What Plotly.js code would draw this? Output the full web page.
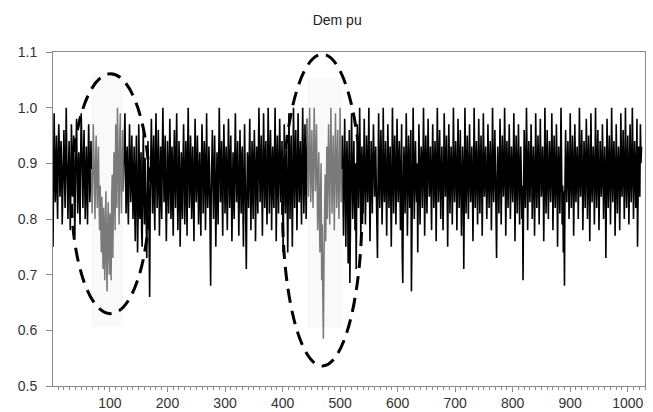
<!DOCTYPE html>
<html>
<head>
<meta charset="utf-8">
<script src="https://cdn.plot.ly/plotly-3.0.1.min.js"></script>
<style>html,body{margin:0;padding:0;background:#fff;}#chart{width:653px;height:412px;}</style>
</head>
<body>
<div id="chart"></div>
<script>
// Dem pu series, one value per sample (sample index starts at 1)
const demPu = [
0.75,0.92,0.99,0.90,0.83,0.88,0.95,0.86,0.80,0.91,0.97,0.93,0.84,0.87,0.94,0.89,0.79,0.85,0.92,0.96,
0.88,0.82,0.90,1.00,0.91,0.85,0.80,0.89,0.94,0.87,0.78,0.86,0.97,0.92,0.84,0.90,0.95,0.83,0.77,0.88,
0.93,0.98,0.87,0.81,0.89,0.92,0.84,0.79,0.90,0.99,0.94,0.86,0.82,0.91,0.96,0.88,0.80,0.87,0.93,0.85,
0.79,0.90,0.97,0.91,0.83,0.86,0.94,0.89,0.81,0.88,0.97,0.92,0.84,0.80,0.90,0.95,0.87,0.82,0.89,0.93,
0.83,0.78,0.86,0.80,0.74,0.84,0.79,0.71,0.82,0.76,0.69,0.80,0.85,0.72,0.67,0.78,0.83,0.74,0.70,0.81,
0.76,0.69,0.84,0.88,0.73,0.80,0.92,0.86,0.78,0.97,0.89,0.82,1.00,0.93,0.84,0.79,0.95,0.99,0.87,0.81,
0.90,0.96,0.85,0.88,0.94,0.99,0.86,0.81,0.90,0.93,0.84,0.79,0.89,0.97,0.91,0.83,0.87,0.95,0.88,0.80,
0.86,0.93,0.82,0.76,0.89,0.95,0.84,0.74,0.81,0.97,0.90,0.80,0.86,0.92,0.78,0.75,0.88,0.96,0.85,0.79,
0.91,0.87,0.80,0.73,0.86,0.94,0.89,0.79,0.66,0.84,0.92,0.98,0.88,0.81,0.90,0.95,0.83,0.78,0.91,0.99,
0.90,0.82,0.87,0.96,0.89,0.77,0.84,0.93,0.86,0.80,0.92,1.00,0.91,0.83,0.88,0.95,0.84,0.76,0.85,0.94,
0.89,0.81,0.86,0.98,0.92,0.80,0.85,0.93,0.83,0.77,0.90,0.96,0.88,0.82,0.91,0.99,0.87,0.78,0.84,0.94,
0.88,0.75,0.83,0.92,0.86,0.80,0.90,0.97,0.89,0.79,0.85,0.94,0.87,0.77,0.91,1.00,0.90,0.82,0.86,0.95,
0.91,0.80,0.85,0.93,0.84,0.76,0.88,0.98,0.90,0.83,0.87,0.95,0.89,0.79,0.86,0.92,0.83,0.77,0.89,0.97,
0.91,0.81,0.87,0.94,0.90,0.78,0.85,0.99,0.88,0.82,0.86,0.93,0.89,0.79,0.68,0.84,0.91,0.96,0.87,0.80,
0.88,0.95,0.86,0.75,0.83,0.92,0.87,0.79,0.90,1.00,0.92,0.83,0.88,0.94,0.85,0.77,0.89,0.97,0.90,0.81,
0.87,0.93,0.84,0.78,0.89,0.98,0.90,0.82,0.88,0.95,0.86,0.76,0.85,0.92,0.84,0.80,0.91,0.99,0.89,0.83,
0.88,0.94,0.85,0.77,0.86,0.96,0.89,0.81,0.90,0.93,0.83,0.75,0.87,0.97,0.88,0.79,0.71,0.84,0.92,0.89,
0.82,0.90,0.98,0.88,0.78,0.87,0.94,0.85,0.80,0.91,0.96,0.89,0.76,0.86,0.93,0.88,0.81,0.92,1.00,0.90,
0.83,0.89,0.95,0.86,0.77,0.88,0.99,0.91,0.82,0.90,0.94,0.85,0.79,0.89,1.00,0.92,0.81,0.87,0.96,0.90,
0.78,0.88,0.93,0.85,0.82,0.91,1.00,0.90,0.76,0.87,0.95,0.89,0.81,0.88,0.98,0.91,0.83,0.86,0.94,0.87,
0.74,0.86,0.97,0.90,0.81,0.88,0.93,0.84,0.74,0.85,0.99,0.91,0.80,0.89,0.95,0.85,0.75,0.87,1.00,0.92,
0.82,0.90,0.96,0.88,0.78,0.87,0.99,0.91,0.83,0.88,0.94,0.85,0.79,0.90,1.00,0.92,0.81,0.87,0.97,0.89,
0.80,0.88,0.98,0.91,0.84,0.90,1.00,0.92,0.83,0.89,0.96,0.87,0.82,0.91,1.00,0.93,0.85,0.90,0.97,0.88,
0.78,0.86,0.92,0.80,0.74,0.85,0.90,0.69,0.79,0.66,0.585,0.72,0.84,0.88,0.76,0.86,0.93,0.80,0.89,0.97,
0.88,0.79,0.90,1.00,0.91,0.81,0.87,0.95,0.86,0.78,0.90,0.99,0.89,0.82,0.91,0.96,0.85,0.80,0.88,1.00,
0.90,0.83,0.89,0.95,0.86,0.77,0.88,0.98,0.90,0.75,0.87,0.94,0.86,0.72,0.88,0.96,0.685,0.85,0.91,0.99,
0.89,0.80,0.87,0.94,0.85,0.78,0.90,0.71,0.86,0.97,0.90,0.82,0.88,1.00,0.91,0.77,0.85,0.93,0.87,0.81,
0.89,0.98,0.88,0.79,0.86,0.95,0.90,0.83,0.89,1.00,0.87,0.76,0.85,0.94,0.88,0.81,0.90,0.97,0.91,0.84,
0.88,0.93,0.85,0.78,0.73,0.87,0.99,0.90,0.82,0.89,0.96,0.88,0.79,0.86,1.00,0.89,0.83,0.88,0.94,0.86,
0.77,0.87,0.97,0.90,0.82,0.89,0.93,0.85,0.75,0.86,1.00,0.91,0.81,0.90,0.95,0.88,0.79,0.87,0.98,0.90,
0.83,0.89,0.94,0.86,0.78,0.88,0.97,0.74,0.685,0.86,0.93,0.89,0.81,0.88,0.99,0.90,0.77,0.86,0.95,0.89,
0.82,0.90,0.96,0.67,0.84,0.91,1.00,0.90,0.80,0.87,0.94,0.88,0.83,0.90,0.74,0.86,0.97,0.89,0.79,0.88,
0.93,0.90,0.82,0.89,1.00,0.91,0.77,0.86,0.95,0.88,0.81,0.89,0.98,0.90,0.84,0.87,0.93,0.86,0.78,0.89,
0.97,0.90,0.82,0.87,0.94,0.89,0.76,0.88,1.00,0.91,0.83,0.87,0.96,0.89,0.80,0.88,0.93,0.86,0.78,0.87,
0.99,0.91,0.84,0.88,0.95,0.87,0.75,0.86,0.97,0.90,0.81,0.88,0.93,0.89,0.79,0.87,1.00,0.90,0.83,0.88,
0.94,0.89,0.78,0.87,0.98,0.90,0.82,0.88,0.96,0.87,0.77,0.86,0.93,0.88,0.71,0.85,1.00,0.90,0.81,0.88,
0.95,0.89,0.80,0.87,0.97,0.90,0.83,0.88,0.93,0.86,0.76,0.87,1.00,0.91,0.82,0.88,0.94,0.89,0.79,0.87,
0.98,0.90,0.81,0.88,0.95,0.89,0.77,0.86,0.99,0.91,0.84,0.88,0.93,0.87,0.80,0.86,0.97,0.90,0.82,0.88,
0.94,0.89,0.78,0.87,1.00,0.90,0.83,0.88,0.96,0.89,0.80,0.73,0.87,0.93,0.89,0.81,0.88,0.98,0.90,0.79,
0.87,0.95,0.89,0.84,0.88,1.00,0.91,0.77,0.86,0.94,0.88,0.82,0.89,0.97,0.90,0.80,0.87,0.93,0.89,0.83,
0.88,0.99,0.90,0.76,0.86,0.95,0.89,0.81,0.88,0.97,0.90,0.79,0.87,0.93,0.88,0.80,0.86,0.69,0.85,0.96,
0.90,0.82,0.88,1.00,0.91,0.78,0.86,0.94,0.89,0.83,0.88,0.97,0.90,0.80,0.87,0.93,0.88,0.77,0.86,0.99,
0.90,0.82,0.87,0.95,0.89,0.79,0.88,0.98,0.90,0.84,0.87,0.93,0.89,0.76,0.86,1.00,0.91,0.81,0.88,0.96,
0.89,0.80,0.87,0.94,0.90,0.83,0.88,0.99,0.91,0.78,0.86,0.95,0.89,0.82,0.87,0.97,0.90,0.75,0.86,0.93,
0.89,0.81,0.88,1.00,0.90,0.79,0.86,0.74,0.85,0.68,0.87,0.96,0.90,0.83,0.88,0.94,0.89,0.80,0.87,0.99,
0.90,0.82,0.88,0.95,0.89,0.77,0.86,0.97,0.90,0.83,0.88,0.93,0.89,0.80,0.87,1.00,0.91,0.84,0.88,0.96,
0.89,0.78,0.86,0.94,0.90,0.82,0.88,0.98,0.91,0.80,0.87,0.95,0.89,0.76,0.86,0.99,0.90,0.83,0.88,0.93,
0.89,0.79,0.87,1.00,0.90,0.82,0.88,0.96,0.89,0.78,0.86,0.94,0.90,0.84,0.88,0.97,0.89,0.80,0.87,0.93,
0.88,0.73,0.86,0.98,0.90,0.82,0.88,0.95,0.89,0.79,0.87,1.00,0.91,0.83,0.88,0.94,0.89,0.77,0.86,0.97,
0.89,0.81,0.88,0.93,0.90,0.78,0.86,0.99,0.91,0.84,0.88,0.96,0.89,0.80,0.87,1.00,0.90,0.82,0.88,0.95,
0.89,0.79,0.87,0.97,0.90,0.83,0.88,1.00,0.91,0.80,0.87,0.94,0.89,0.82,0.88,0.98,0.75,0.86,0.93,0.89,
0.84,0.97,0.90,0.93
];
const firstSample = 1;
// highlighted sample windows (drawn in grey on a light band)
const windowStarts = [68, 443];
const windowEnds = [123, 503];
const xTickLabels = ['100','200','300','400','500','600','700','800','900','1000'];
const yTickLabels = ['0.5','0.6','0.7','0.8','0.9','1.0','1.1'];

const xs = demPu.map((_, i) => firstSample + i);
const inside = x => windowStarts.some((a, k) => x > a && x < windowEnds[k]);
const blackY = demPu.map((v, i) => inside(xs[i]) ? null : v);

const traces = [{
  type: 'scatter', mode: 'lines', x: xs, y: blackY,
  line: {color: '#000000', width: 1.6}, connectgaps: false, hoverinfo: 'skip'
}];
windowStarts.forEach((a, k) => {
  const b = windowEnds[k];
  const gx = [], gy = [];
  xs.forEach((x, i) => { if (x >= a && x <= b) { gx.push(x); gy.push(demPu[i]); } });
  traces.push({type: 'scatter', mode: 'lines', x: gx, y: gy,
    line: {color: '#7a7a7a', width: 1.5}, hoverinfo: 'skip'});
});

const axisGrey = '#8a8a8a';
const tickFont = {family: 'Liberation Sans, Arial, sans-serif', size: 14, color: '#333333'};

const shapes = [
  {type: 'rect', xref: 'x', yref: 'y', x0: windowStarts[0], x1: windowEnds[0], y0: 0.607, y1: 1.06,
   fillcolor: '#f9f9f9', line: {width: 0}, layer: 'below'},
  {type: 'rect', xref: 'x', yref: 'y', x0: windowStarts[1], x1: windowEnds[1], y0: 0.605, y1: 1.053,
   fillcolor: '#f9f9f9', line: {width: 0}, layer: 'below'},
  {type: 'circle', xref: 'x', yref: 'y', x0: 33, x1: 169, y0: 0.63, y1: 1.061,
   line: {color: '#000000', width: 3, dash: '14px,8px'}, layer: 'above'},
  {type: 'circle', xref: 'x', yref: 'y', x0: 400, x1: 538, y0: 0.536, y1: 1.096,
   line: {color: '#000000', width: 3, dash: '14px,8px'}, layer: 'above'}
];

const layout = {
  width: 653, height: 412,
  margin: {l: 53, r: 8, t: 52, b: 26, pad: 0},
  paper_bgcolor: '#ffffff', plot_bgcolor: '#ffffff',
  showlegend: false,
  title: {text: 'Dem pu', x: 0.48, xanchor: 'center', xref: 'paper', y: 0.951, yref: 'container', yanchor: 'middle',
    font: {family: 'Liberation Sans Narrow, Arial Narrow, Liberation Sans, sans-serif', size: 14, color: '#222222'}},
  xaxis: {
    range: [1, 1030], tickmode: 'array',
    tickvals: xTickLabels.map(Number), ticktext: xTickLabels,
    ticks: 'outside', ticklen: 5, tickcolor: axisGrey, tickwidth: 1,
    showline: true, linecolor: axisGrey, linewidth: 1, mirror: true,
    showgrid: false, zeroline: false, tickfont: tickFont, ticklabelstandoff: -1,
    minor: {tickmode: 'linear', tick0: 0, dtick: 10, ticks: 'outside', ticklen: 3, tickcolor: axisGrey, showgrid: false}
  },
  yaxis: {
    range: [0.5, 1.1], tickmode: 'array',
    tickvals: yTickLabels.map(Number), ticktext: yTickLabels,
    ticks: 'outside', ticklen: 6, tickcolor: axisGrey, tickwidth: 1,
    showline: true, linecolor: axisGrey, linewidth: 1, mirror: true,
    showgrid: false, zeroline: false, tickfont: tickFont, ticklabelstandoff: 6
  },
  shapes: shapes
};

Plotly.newPlot('chart', traces, layout, {staticPlot: true, displayModeBar: false});
</script>
</body>
</html>
